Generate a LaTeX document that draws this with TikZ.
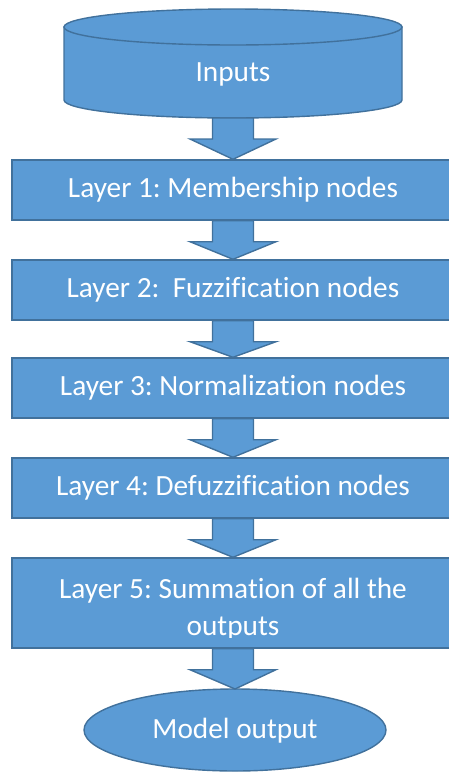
\documentclass[tikz,border=0pt]{standalone}
\usepackage{fontspec}
\setmainfont{Carlito}[Ligatures=CommonOff]
\usetikzlibrary{calc}
\definecolor{fillblue}{HTML}{5B9BD5}
\definecolor{edgeblue}{HTML}{41719C}
\tikzset{
  shapestyle/.style={fill=fillblue,draw=edgeblue,line width=1.4pt},
  layerbox/.style={shapestyle,rectangle,minimum width=442pt,minimum height=60pt,inner sep=0pt,
     text=white,font=\fontsize{29.3}{37}\selectfont},
  labeltext/.style={text=white,font=\fontsize{29.3}{37}\selectfont,inner sep=0pt},
  blockarrow/.style={shapestyle,line join=miter}
}
\newcommand{\blockarr}[2]{%
  \draw[blockarrow] ($(#1)+(-20.5,0)$) -- ($(#1)+(20.5,0)$) -- ($(#1)+(20.5,21)$) -- ($(#1)+(43,21)$)
     -- (#2) -- ($(#1)+(-43,21)$) -- ($(#1)+(-20.5,21)$) -- cycle;}
\frenchspacing
\begin{document}
\begin{tikzpicture}[x=1pt,y=-1pt]
\useasboundingbox (0,0) rectangle (448,772);
% cylinder
\draw[shapestyle] (64,27) -- (64,100) arc[start angle=180,end angle=0,x radius=169,y radius=18] -- (402,27) -- cycle;
\draw[shapestyle] (233,27) ellipse[x radius=169,y radius=18];
\coordinate (inbot) at (233,118);
\node[labeltext] (inputs) at (233,74) {Inputs};
% layer boxes
\node[layerbox] (l1) at (233,190) {Layer 1: Membership nodes};
\node[layerbox] (l2) at (233,290) {Layer 2:\ \ Fuzzification nodes};
\node[layerbox] (l3) at (233,388) {Layer 3: Normalization nodes};
\node[layerbox] (l4) at (233,488) {Layer 4: Defuzzification nodes};
\node[layerbox,minimum height=90pt] (l5) at (233,603) {};
\begin{scope}
  \clip (l5.north west) rectangle ($(l5.south east)+(0,-11)$);
  \node[labeltext,align=center,anchor=north] (l5t) at (233,578) {Layer 5: Summation of all the\\outputs};
\end{scope}
% output ellipse
\draw[shapestyle] (235,730) ellipse[x radius=151,y radius=41];
\node[labeltext] (mout) at (235,731) {Model output};
\coordinate (mtop) at (235,689);
% arrows
\blockarr{inbot}{l1.north}
\blockarr{l1.south}{l2.north}
\blockarr{l2.south}{l3.north}
\blockarr{l3.south}{l4.north}
\blockarr{l4.south}{l5.north}
\blockarr{l5.south}{mtop}
\end{tikzpicture}
\end{document}
